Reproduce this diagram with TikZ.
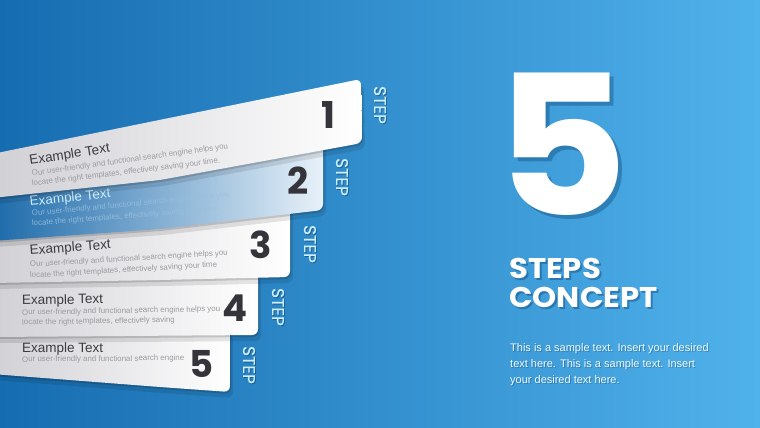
\documentclass[tikz,border=0pt]{standalone}
\usepackage{fontspec}
\setmainfont{Liberation Sans}
\newfontfamily\pop{Poppins}
\newfontfamily\popm{Poppins}[FakeBold=0.6]
\definecolor{bgL}{RGB}{22,108,176}
\definecolor{bgM}{RGB}{36,134,204}
\definecolor{bgR}{RGB}{80,178,235}
\definecolor{stripGray}{RGB}{208,208,213}
\definecolor{stripMid}{RGB}{240,240,242}
\definecolor{sTwoL}{RGB}{28,106,170}
\definecolor{sTwoM}{RGB}{150,192,224}
\definecolor{sTwoR}{RGB}{232,241,249}
\definecolor{numCol}{RGB}{52,52,58}
\definecolor{headCol}{RGB}{60,60,64}
\definecolor{descCol}{RGB}{155,155,160}
\definecolor{stepCol}{RGB}{205,238,251}
\definecolor{darkShadow}{RGB}{10,60,110}
\begin{document}
\begin{tikzpicture}[x=1pt,y=-1pt,
  stripfill/.style={left color=stripGray, middle color=stripMid, right color=white},
  shadA/.style={fill=black, opacity=0.10},
  shadB/.style={fill=black, opacity=0.14},
  p1/.style={insert path={[rounded corners=6] (-8,154) -- (361,79) -- (362,143) -- (160,180) -- (-8,198) -- cycle}},
  p2/.style={insert path={[rounded corners=6] (-8,185) -- (323,135) -- (323,210) -- (160,229) -- (-8,241) -- cycle}},
  p3/.style={insert path={[rounded corners=6] (-8,232) -- (290,205) -- (290,277) -- (160,280) -- (-8,283) -- cycle}},
  p4/.style={insert path={[rounded corners=6] (-8,278) -- (258,270) -- (258,335) -- (-8,337) -- cycle}},
  p5/.style={insert path={[rounded corners=6] (-8,331) -- (230,328) -- (230,392) -- (160,387) -- (-8,374) -- cycle}},
  head/.style={anchor=base west, inner sep=0pt, text=headCol, font=\fontsize{13.5}{14}\selectfont},
  desc/.style={anchor=base west, inner sep=0pt, text=descCol, font=\fontsize{7.9}{8}\selectfont},
  num/.style={inner sep=0pt, text=numCol, font=\pop\bfseries\fontsize{37}{37}\selectfont},
  steplbl/.style={rotate=-90, inner sep=0pt, text=stepCol, font=\popm\fontsize{17}{17}\selectfont},
  stepshadow/.style={rotate=-90, inner sep=0pt, text=darkShadow, opacity=0.45, font=\popm\fontsize{17}{17}\selectfont},
  body/.style={anchor=base west, inner sep=0pt, text=white!92!bgR, font=\fontsize{11}{16}\selectfont},
  bodyshadow/.style={anchor=base west, inner sep=0pt, text=darkShadow, opacity=0.35, font=\fontsize{11}{16}\selectfont},
  ttl/.style={anchor=base west, inner sep=0pt, xscale=1.08, text=white, font=\pop\bfseries\fontsize{28.5}{29}\selectfont},
  ttlshadow/.style={anchor=base west, inner sep=0pt, xscale=1.08, text=darkShadow, opacity=0.4, font=\pop\bfseries\fontsize{28.5}{29}\selectfont}
]
\useasboundingbox (0,0) rectangle (760,428);
\shade[left color=bgL, middle color=bgM, right color=bgR] (0,0) rectangle (760,428);

\begin{scope}
\clip (0,0) rectangle (760,428);
% strip 5
\fill[shadA, shift={(3,6)}, p5];
\fill[shadB, shift={(1,2)}, p5];
\path[stripfill, p5];
\node[head] (h5) at (22,352) {Example Text};
\node[desc, rotate=0.5] (d5a) at (22,362) {Our user-friendly and functional search engine};
\node[num] (n5) at (202,364) {5};
% strip 4
\fill[shadA, shift={(3,6)}, p4];
\fill[shadB, shift={(1,2)}, p4];
\path[stripfill, p4];
\node[head, rotate=1.2] (h4) at (22,305) {Example Text};
\node[desc, rotate=1] (d4a) at (22,315) {Our user-friendly and functional search engine helps you};
\node[desc, rotate=1] (d4b) at (22,325) {locate the right templates, effectively saving};
\node[num] (n4) at (235,308) {4};
% strip 3
\fill[shadA, shift={(3,6)}, p3];
\fill[shadB, shift={(1,2)}, p3];
\path[stripfill, p3];
\node[head, rotate=4.5] (h3) at (30,255) {Example Text};
\node[desc, rotate=3.4] (d3a) at (30,267) {Our user-friendly and functional search engine helps you};
\node[desc, rotate=3.4] (d3b) at (30,278) {locate the right templates, effectively saving your time};
\node[num] (n3) at (261,245) {3};
% strip 2
\fill[shadA, shift={(3,6)}, p2];
\fill[shadB, shift={(1,2)}, p2];
\path[left color=sTwoL, middle color=sTwoM, right color=sTwoR, p2];
\node[head, rotate=6, text=stepCol] (h2) at (30,206) {Example Text};
\node[desc, rotate=5.5, text=sTwoM, opacity=0.85] (d2a) at (32,216) {Our user-friendly and functional search engine helps you};
\node[desc, rotate=4.5, text=sTwoM, opacity=0.85] (d2b) at (32,226) {locate the right templates, effectively saving your time.};
\node[num] (n2) at (298,181) {2};
% strip 1
\fill[shadA, shift={(3,6)}, p1];
\fill[shadB, shift={(1,2)}, p1];
\path[stripfill, p1];
\node[head, rotate=9] (h1) at (30,165) {Example Text};
\node[desc, rotate=8] (d1a) at (32,176) {Our user-friendly and functional search engine helps you};
\node[desc, rotate=7] (d1b) at (32,186) {locate the right templates, effectively saving your time.};
\node[num] (n1) at (328,115) {1};
\end{scope}

% STEP labels
\node[stepshadow] (s1s) at (381,106) {STEP};
\node[steplbl] (s1) at (380,105) {STEP};
\node[stepshadow] (s2s) at (343,178) {STEP};
\node[steplbl] (s2) at (342,177) {STEP};
\node[stepshadow] (s3s) at (311,245) {STEP};
\node[steplbl] (s3) at (310,244) {STEP};
\node[stepshadow] (s4s) at (279,308) {STEP};
\node[steplbl] (s4) at (278,307) {STEP};
\node[stepshadow] (s5s) at (250,366) {STEP};
\node[steplbl] (s5) at (249,365) {STEP};

% big 5
\node[anchor=base, inner sep=0pt, xscale=1.05, text=darkShadow, opacity=0.35, font=\pop\bfseries\fontsize{195}{195}\selectfont] (bigs) at (566,219) {5};
\node[anchor=base, inner sep=0pt, xscale=1.05, text=white, font=\pop\bfseries\fontsize{195}{195}\selectfont] (big) at (562,215) {5};

% title
\node[ttlshadow] (t1s) at (511,280) {STEPS};
\node[ttl] (t1) at (509,278) {STEPS};
\node[ttlshadow] (t2s) at (511,309) {CONCEPT};
\node[ttl] (t2) at (509,307) {CONCEPT};

% body
\node[bodyshadow] (b1s) at (511,352) {This is a sample text. Insert your desired};
\node[body] (b1) at (510,351) {This is a sample text. Insert your desired};
\node[bodyshadow] (b2s) at (511,368) {text here. This is a sample text. Insert};
\node[body] (b2) at (510,367) {text here. This is a sample text. Insert};
\node[bodyshadow] (b3s) at (511,384) {your desired text here.};
\node[body] (b3) at (510,383) {your desired text here.};
\end{tikzpicture}
\end{document}
